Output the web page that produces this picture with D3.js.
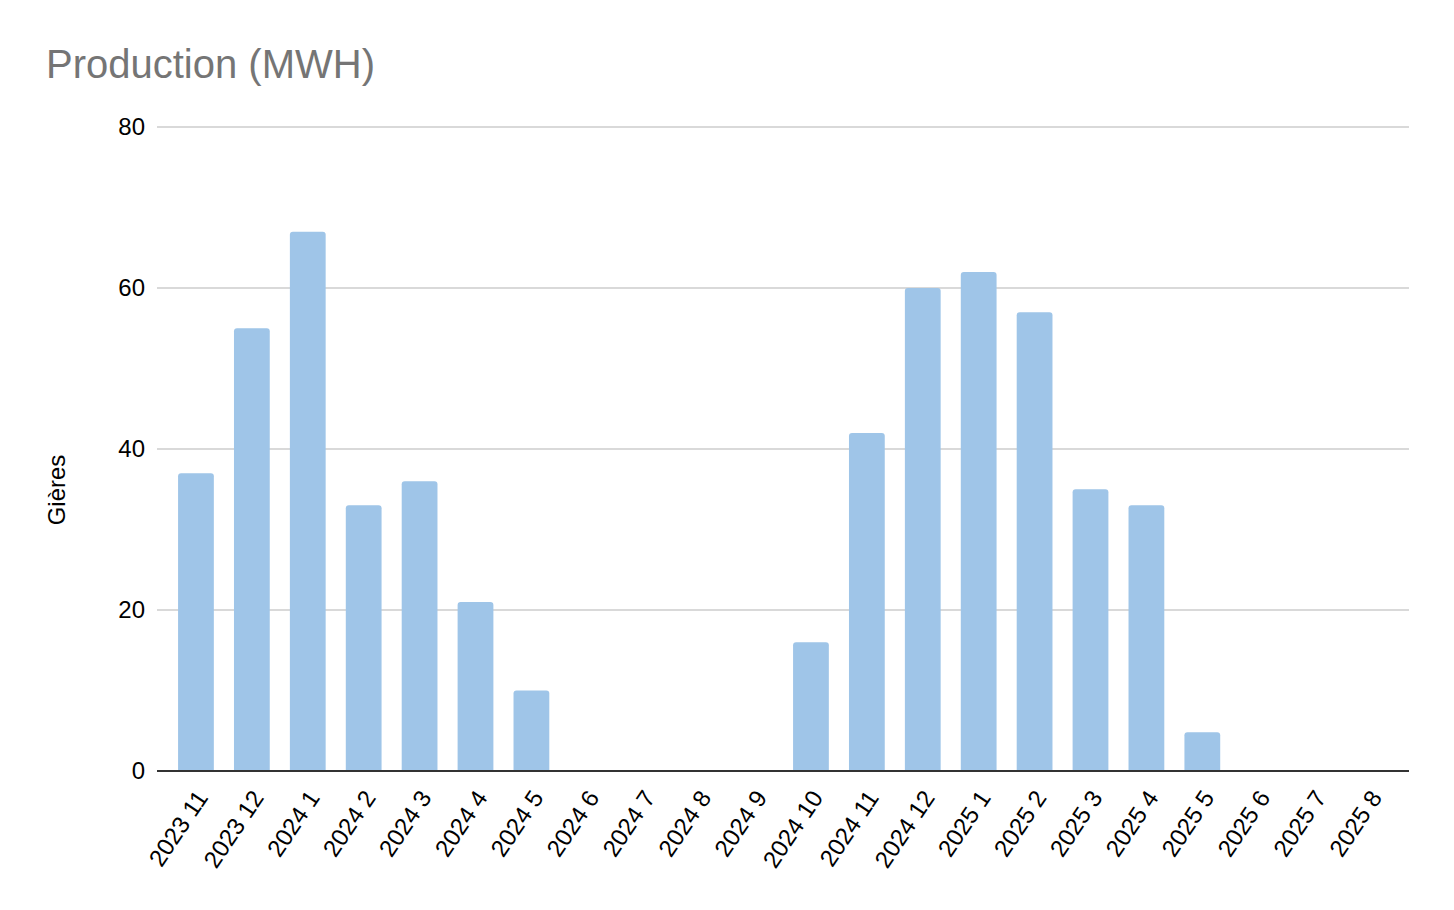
<!DOCTYPE html>
<html>
<head>
<meta charset="utf-8">
<script src="https://cdn.jsdelivr.net/npm/d3@7"></script>
<style>
  html, body { margin: 0; padding: 0; background: #fff; }
  svg { display: block; font-family: "Liberation Sans", Arial, sans-serif; }
</style>
</head>
<body>
<svg id="chart" width="1454" height="910"></svg>
<script>
const categories = ["2023 11","2023 12","2024 1","2024 2","2024 3","2024 4","2024 5","2024 6","2024 7","2024 8","2024 9","2024 10","2024 11","2024 12","2025 1","2025 2","2025 3","2025 4","2025 5","2025 6","2025 7","2025 8"];
const values = [37, 55, 67, 33, 36, 21, 10, 0, 0, 0, 0, 16, 42, 60, 62, 57, 35, 33, 4.8, 0, 0, 0];
const yTicks = [0, 20, 40, 60, 80];
const title = "Production (MWH)";
const yLabel = "Gières";

const svg = d3.select("#chart");
const plotLeft = 157, plotRight = 1409, plotTop = 127, plotBottom = 771;

const x = d3.scaleBand().domain(categories).range([168, 1398]).paddingInner(0.36).paddingOuter(0.18);
const y = d3.scaleLinear().domain([0, 80]).range([plotBottom, plotTop]);

// title
svg.append("text").attr("x", 46).attr("y", 78).attr("fill", "#757575")
  .attr("font-size", 40).text(title);

// gridlines
svg.append("g").selectAll("line").data(yTicks.filter(d => d !== 0)).join("line")
  .attr("x1", plotLeft).attr("x2", plotRight)
  .attr("y1", d => y(d)).attr("y2", d => y(d))
  .attr("stroke", "#cccccc").attr("stroke-width", 1.5);

// y axis tick labels
const yAxis = d3.axisLeft(y).tickValues(yTicks).tickSize(0).tickPadding(12);
const gy = svg.append("g").attr("transform", `translate(${plotLeft},0)`).call(yAxis);
gy.select(".domain").remove();
gy.selectAll("text").attr("font-size", 24).attr("fill", "#000").attr("font-family", "Liberation Sans, Arial, sans-serif");

// y label
svg.append("text").attr("transform", `translate(65,490) rotate(-90)`)
  .attr("text-anchor", "middle").attr("font-size", 24).attr("fill", "#000").text(yLabel);

// bars with rounded top corners
const r = 3;
function barPath(d) {
  const x0 = x(d.c), w = x.bandwidth(), y0 = y(d.v), yb = y(0);
  const h = yb - y0;
  if (h <= 0) return "";
  const rr = Math.min(r, h, w / 2);
  return `M${x0},${yb}V${y0 + rr}Q${x0},${y0} ${x0 + rr},${y0}H${x0 + w - rr}Q${x0 + w},${y0} ${x0 + w},${y0 + rr}V${yb}Z`;
}
svg.append("g").selectAll("path").data(categories.map((c, i) => ({ c, v: values[i] }))).join("path")
  .attr("d", barPath).attr("fill", "#9fc5e8");

// x axis
const xAxis = d3.axisBottom(x).tickSize(0).tickPadding(0);
const gx = svg.append("g").attr("transform", `translate(0,${plotBottom})`).call(xAxis);
gx.select(".domain").remove();
gx.selectAll("text")
  .attr("font-size", 24).attr("fill", "#000").attr("font-family", "Liberation Sans, Arial, sans-serif")
  .attr("text-anchor", "end").attr("dy", "0.35em")
  .attr("transform", "translate(6,22) rotate(-56)");

// baseline
svg.append("line").attr("x1", plotLeft).attr("x2", plotRight)
  .attr("y1", y(0)).attr("y2", y(0)).attr("stroke", "#333333").attr("stroke-width", 2);
</script>
</body>
</html>
